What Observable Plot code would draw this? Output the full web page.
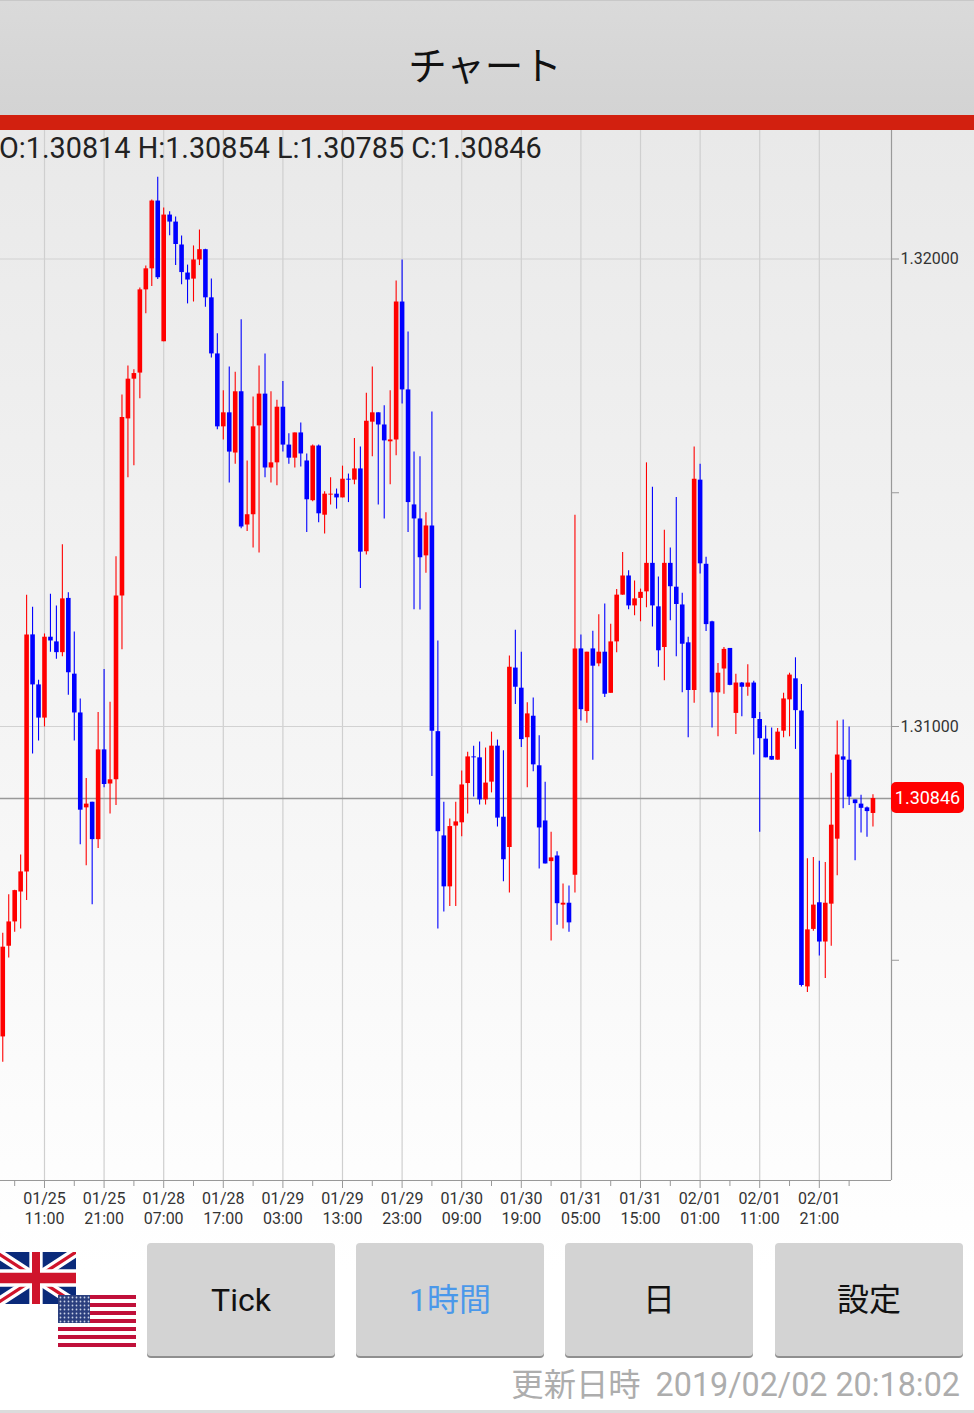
<!DOCTYPE html>
<html lang="ja">
<head>
<meta charset="utf-8">
<script src="https://cdn.jsdelivr.net/npm/d3@7"></script>
<script src="https://cdn.jsdelivr.net/npm/@observablehq/plot@0.6"></script>
<style>
html,body{margin:0;padding:0;width:974px;height:1413px;overflow:hidden;background:#fff;font-family:Roboto,"Noto Sans CJK JP",sans-serif;}
#page{position:relative;width:974px;height:1413px;background:linear-gradient(#e9e9e9 0,#e9e9e9 130px,#ffffff 1270px,#ffffff 100%);overflow:hidden;}
#head{position:absolute;left:0;top:0;width:974px;height:115px;background:linear-gradient(#dadada,#d3d3d3);border-top:1px solid #c8c8c8;box-sizing:border-box;text-align:center;font:38.5px/124px "Noto Sans CJK JP",sans-serif;color:#111;text-indent:-4px;}
#bar{position:absolute;left:0;top:115px;width:974px;height:15px;background:#d2200f;}
#plot{position:absolute;left:0;top:130px;}
#ohlc{position:absolute;left:-1px;top:130px;font:28.8px/36px Roboto,sans-serif;color:#222;white-space:nowrap;}
#tag{position:absolute;left:891px;top:782px;width:73px;height:31px;border-radius:5px;background:#ff0000;color:#fff;font:18px/32px Roboto,sans-serif;text-align:center;}
.btn{position:absolute;top:1243px;width:188px;height:113px;background:#d3d3d3;border-radius:4px;box-shadow:0 2px 0 #8f8f8f;text-align:center;font:32px/115px Roboto,"Noto Sans CJK JP",sans-serif;color:#111;}
#foot{position:absolute;right:14px;top:1364px;font:32.3px/42px Roboto,"Noto Sans CJK JP",sans-serif;color:#adadad;white-space:nowrap;}
#foot span{margin-right:7px;}
#edge{position:absolute;left:0;top:1410px;width:974px;height:3px;background:#dcdcdc;}
.flag{position:absolute;display:block;}
</style>
</head>
<body>
<div id="page">
  <div id="head">チャート</div>
  <div id="bar"></div>
  <div id="plot"></div>
  <div id="ohlc"></div>
  <div id="tag"></div>
  <svg class="flag" style="left:-4px;top:1252px" width="80" height="52" viewBox="0 0 60 30" preserveAspectRatio="none">
    <rect width="60" height="30" fill="#0a2a7a"/>
    <path d="M0 0L60 30M60 0L0 30" stroke="#fff" stroke-width="6"/>
    <path d="M0 0L60 30M60 0L0 30" stroke="#cf142b" stroke-width="2"/>
    <path d="M30 0V30M0 15H60" stroke="#fff" stroke-width="10"/>
    <path d="M30 0V30M0 15H60" stroke="#cf142b" stroke-width="6"/>
  </svg>
  <svg class="flag" style="left:58px;top:1295px" width="78" height="52" viewBox="0 0 78 52" id="us"></svg>
  <div class="btn" style="left:147px">Tick</div>
  <div class="btn" style="left:356px;color:#4a98ea">1時間</div>
  <div class="btn" style="left:565px">日</div>
  <div class="btn" style="left:775px">設定</div>
  <div id="foot"><span>更新日時</span> 2019/02/02 20:18:02</div>
  <div id="edge"></div>
</div>
<script>
// Prices in units of 0.00001
const opens = [
130336,130530,130582,130646,130689,131196,131089,131018,131191,131181,
131158,131274,131112,131029,130826,130838,130758,130950,130877,130886,
131279,131658,131743,131756,131934,131979,132124,131823,132094,132079,
132030,131970,131957,131998,132020,131917,131797,131641,131671,131585,
131716,131431,131453,131643,131711,131553,131564,131683,131602,131574,
131628,131568,131483,131600,131452,131495,131497,131489,131529,131527,
131551,131374,131651,131671,131645,131609,131613,131908,131720,131474,
131444,131365,131429,130989,130766,130657,130787,130794,130878,130935,
130933,130843,130881,130958,130806,130741,131125,131082,130976,131022,
130916,130798,130711,130723,130618,130622,130682,131166,131032,131166,
131134,131159,131071,131181,131281,131322,131258,131274,131288,131349,
131256,131169,131349,131298,131260,131179,131077,131527,131347,131224,
131072,131123,131167,131028,131093,131084,131093,131015,130973,130936,
130928,130990,131057,131102,131033,130443,130566,130623,130539,130620,
130759,130935,130928,130843,130834,130826,130814];
const highs = [
130558,130640,130650,130725,131281,131255,131099,131198,131283,131258,
131389,131286,131202,131059,130889,130838,131030,131122,131052,131363,
131709,131771,131763,131938,131985,132126,132175,132109,132101,132090,
132049,131987,132028,132062,132021,131957,131840,131718,131769,131758,
131870,131568,131705,131771,131797,131716,131698,131738,131626,131628,
131649,131583,131602,131602,131502,131532,131508,131557,131540,131616,
131598,131713,131769,131671,131686,131718,131953,131998,131844,131587,
131577,131457,131673,131183,130838,130802,130838,130905,130945,130958,
130967,130954,130988,130971,130948,131151,131206,131159,131051,131061,
130980,130881,130774,130732,130663,130659,131452,131196,131159,131204,
131239,131262,131219,131293,131372,131333,131311,131294,131564,131512,
131320,131420,131382,131490,131285,131191,131598,131561,131362,131225,
131135,131169,131167,131112,131094,131132,131097,131030,131001,130997,
130996,131071,131114,131147,131090,130717,130720,130712,130709,130900,
131012,131014,130999,130843,130853,130828,130854];
const lows = [
130282,130505,130560,130567,130628,130941,130969,130999,131159,131144,
131149,131067,130969,130747,130702,130619,130739,130869,130813,130831,
131164,131532,131558,131701,131883,131941,131956,131823,132050,131986,
131945,131904,131908,131986,131897,131788,131635,131613,131521,131561,
131423,131417,131382,131371,131532,131521,131515,131587,131561,131553,
131555,131415,131481,131436,131412,131474,131465,131489,131479,131517,
131295,131367,131577,131474,131444,131517,131579,131690,131415,131250,
131249,131328,130893,130567,130603,130615,130615,130764,130813,130849,
130832,130832,130858,130785,130668,130644,131047,130955,130869,130903,
130695,130706,130541,130575,130567,130560,130644,131012,131007,130928,
131128,131062,131071,131158,131281,131250,131237,131224,131254,131213,
131127,131098,131226,131149,131072,130976,131050,131326,131203,130997,
130978,131069,131087,130983,131021,131065,130939,130774,130933,130928,
130928,130976,130978,130951,130443,130431,130562,130509,130461,130530,
130681,130824,130831,130713,130772,130763,130785];
const closes = [
130528,130582,130649,130689,131196,131089,131018,131191,131183,131158,
131273,131115,131029,130821,130834,130758,130950,130876,130886,131279,
131661,131743,131755,131934,131979,132124,131960,132094,132079,132031,
131971,131955,131998,132020,131917,131797,131641,131671,131587,131716,
131427,131453,131641,131711,131553,131564,131683,131602,131574,131628,
131583,131485,131600,131455,131497,131497,131489,131529,131527,131551,
131373,131653,131671,131645,131611,131613,131908,131720,131479,131444,
131361,131429,130990,130775,130657,130786,130796,130875,130935,130933,
130843,130879,130958,130804,130715,131127,131084,130972,131027,130918,
130783,130706,130719,130621,130622,130580,131166,131036,131159,131129,
131159,131069,131181,131281,131322,131258,131273,131287,131349,131258,
131162,131349,131299,131261,131176,131077,131529,131348,131218,131072,
131114,131165,131088,131093,131084,131093,131017,130974,130933,130928,
130988,131059,131110,131034,130446,130565,130618,130539,130622,130789,
130939,130928,130849,130835,130825,130818,130846];

const majorTicks = [7,17,27,37,47,57,67,77,87,97,107,117,127,137];
const minorTicks = [2,12,22,32,42,52,62,72,82,92,102,112,122,132,142];
const tickDays  = ["01/25","01/25","01/28","01/28","01/29","01/29","01/29","01/30","01/30","01/31","01/31","02/01","02/01","02/01"];
const tickHours = ["11:00","21:00","07:00","17:00","03:00","13:00","23:00","09:00","19:00","05:00","15:00","01:00","11:00","21:00"];
const priceLabels = [1.32, 1.31];
const priceMinor = [1.315, 1.305];

const candles = opens.map((o, i) => ({
  i, open: o / 1e5, high: highs[i] / 1e5, low: lows[i] / 1e5, close: closes[i] / 1e5,
  color: closes[i] >= o ? "#ff0000" : "#0000ff"
}));
const last = candles[candles.length - 1];

const xDomain = [-0.38, 149.11];
const yDomain = [1.300289, 1.322749];

const chart = Plot.plot({
  width: 974, height: 1100,
  marginTop: 0, marginLeft: 0, marginRight: 83, marginBottom: 50,
  x: {domain: xDomain, axis: null},
  y: {domain: yDomain, axis: null},
  style: {background: "transparent", fontFamily: "Roboto, sans-serif", overflow: "visible"},
  marks: [
    Plot.ruleX(majorTicks, {stroke: "#cfcfcf", strokeWidth: 1.2}),
    Plot.ruleY(priceLabels, {stroke: "#d2d2d2", strokeWidth: 1.2}),
    Plot.ruleY([last.close], {stroke: "#999999", strokeWidth: 1.6}),
    Plot.ruleX(candles, {x: "i", y1: "low", y2: "high", stroke: "color", strokeWidth: 1.1}),
    Plot.ruleX(candles, {x: "i", y1: "open", y2: "close", stroke: "color", strokeWidth: 4.6}),
    Plot.ruleX([xDomain[1]], {stroke: "#999999", strokeWidth: 1.2}),
    Plot.ruleY([yDomain[0]], {stroke: "#999999", strokeWidth: 1.2}),
    Plot.axisX({
      ticks: majorTicks, tickSize: 8, tickPadding: 1, fontSize: 16, lineHeight: 1.25,
      stroke: "#999999", fill: "#333333", label: null,
      tickFormat: (d) => tickDays[majorTicks.indexOf(d)] + "\n" + tickHours[majorTicks.indexOf(d)]
    }),
    Plot.axisX({ticks: minorTicks, tickSize: 6, stroke: "#999999", label: null, tickFormat: () => ""}),
    Plot.axisY({
      anchor: "right", ticks: priceLabels, tickSize: 7, tickPadding: 2, fontSize: 16,
      stroke: "#999999", fill: "#333333", label: null,
      tickFormat: (d) => d.toFixed(5)
    }),
    Plot.axisY({anchor: "right", ticks: priceMinor, tickSize: 7, stroke: "#999999", label: null, tickFormat: () => ""})
  ]
});
document.getElementById("plot").appendChild(chart);

const fmt = (v) => v.toFixed(5);
document.getElementById("ohlc").textContent =
  `O:${fmt(last.open)} H:${fmt(last.high)} L:${fmt(last.low)} C:${fmt(last.close)}`;
document.getElementById("tag").textContent = fmt(last.close);

// Small decorative US flag next to the UK flag
const us = d3.select("#us");
us.append("rect").attr("width", 78).attr("height", 52).attr("fill", "#fff");
d3.range(0, 13, 2).forEach(k => us.append("rect").attr("y", k * 4).attr("width", 78).attr("height", 4).attr("fill", "#c0103a"));
us.append("rect").attr("width", 32).attr("height", 28).attr("fill", "#2b3f7e");
d3.range(0, 7).forEach(r => d3.range(0, 8).forEach(c =>
  us.append("circle").attr("cx", 2.5 + c * 4).attr("cy", 2.5 + r * 4).attr("r", 0.9).attr("fill", "#c9d2e6")));
</script>
</body>
</html>
